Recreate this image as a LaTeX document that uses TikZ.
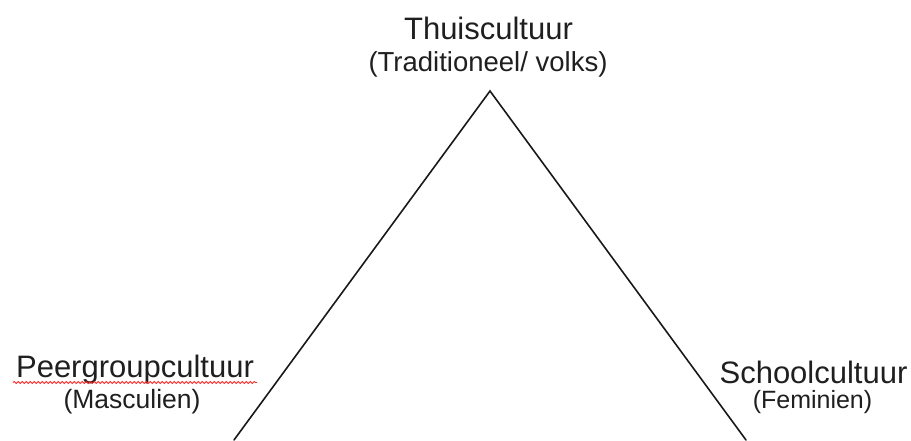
\documentclass[tikz,border=0pt]{standalone}
\usepackage{fontspec}
\setmainfont{Liberation Sans}
\usetikzlibrary{decorations.pathmorphing}
\tikzset{
  edge line/.style={draw=black!90, line width=1.6pt, line cap=round, line join=miter},
  big label/.style={inner sep=0pt, anchor=base, text=black!88, font=\fontsize{31}{37}\selectfont},
  small label/.style={inner sep=0pt, anchor=base, text=black!88, font=\fontsize{26.5}{31}\selectfont},
  spell wave/.style={draw=red!85, line width=0.8pt, decorate, decoration={snake, amplitude=1.1pt, segment length=4pt}}
}
\begin{document}
\begin{tikzpicture}[x=1pt,y=1pt]
  \useasboundingbox (0,0) rectangle (911,440);
  \coordinate (apex) at (490,349);
  \coordinate (bl) at (234,0);
  \coordinate (br) at (746,0);
  \draw[edge line] (bl) -- (apex) -- (br);

  \node[big label] (thuis) at (488.5,400) {Thuiscultuur};
  \node[small label, font=\fontsize{27.5}{32}\selectfont] (thuissub) at (488,368) {(Traditioneel/ volks)};

  \node[big label] (peer) at (135,63) {Peergroupcultuur};
  \node[small label] (peersub) at (132,32) {(Masculien)};
  \coordinate (wl) at (13,57.5);
  \coordinate (wr) at (257,57.5);
  \draw[spell wave] (wl) -- (wr);

  \node[big label] (school) at (813.5,57) {Schoolcultuur};
  \node[small label, font=\fontsize{25}{30}\selectfont] (schoolsub) at (812.5,32) {(Feminien)};
\end{tikzpicture}
\end{document}
